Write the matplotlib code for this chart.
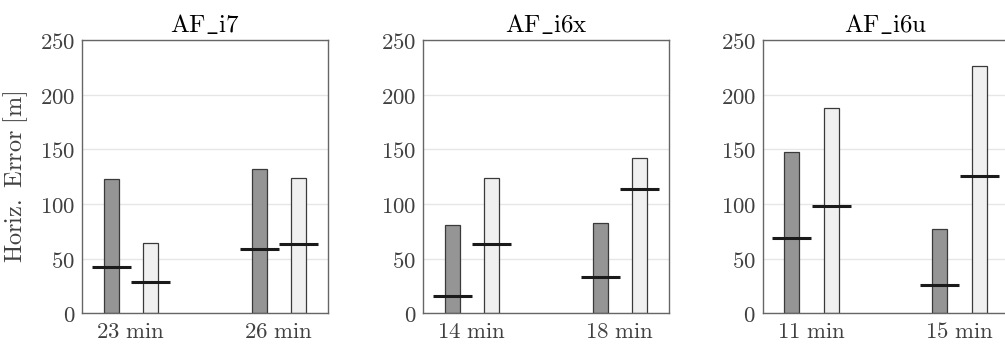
import numpy as np
import matplotlib.pyplot as plt

plt.rcParams['mathtext.fontset'] = 'cm'
plt.rcParams['font.size'] = 16.4

# data: bar = max, line = median, per phone / duration
titles = ['AF_i7', 'AF_i6x', 'AF_i6u']
durations = [['23 min', '26 min'], ['14 min', '18 min'], ['11 min', '15 min']]
dark_max = [[123, 132], [81, 83], [148, 77]]
dark_med = [[42, 59], [16, 33], [69, 26]]
light_max = [[64, 124], [124, 142], [188, 226]]
light_med = [[29, 63], [63, 114], [98, 126]]

dark_col = '#959595'
light_col = '#eff0ef'
edge_col = '#3a3a3a'

def tex(s):
    return r'$\mathrm{' + s.replace('_', r'\_').replace(' ', r'\ ') + '}$'

fig = plt.figure(figsize=(10.05, 3.48), dpi=100)
lefts = [82, 423, 762.7]
for i in range(3):
    ax = fig.add_axes([lefts[i] / 1005, 1 - 313.3 / 348, 245.7 / 1005, 273.3 / 348])
    x = np.arange(2)
    off = 0.133
    w = 0.1
    ax.bar(x - off, dark_max[i], w, color=dark_col, edgecolor=edge_col, linewidth=0.9, zorder=2)
    ax.bar(x + off, light_max[i], w, color=light_col, edgecolor=edge_col, linewidth=0.9, zorder=2)
    ax.hlines(dark_med[i], x - off - 0.132, x - off + 0.132, color='#1a1a1a', lw=2.2, zorder=3)
    ax.hlines(light_med[i], x + off - 0.132, x + off + 0.132, color='#1a1a1a', lw=2.2, zorder=3)

    ax.set_xlim(-0.33, 1.33)
    ax.set_ylim(0, 250)
    ax.set_xticks(x)
    ax.set_xticklabels([tex(d) for d in durations[i]])
    ax.set_yticks([0, 50, 100, 150, 200, 250])
    ax.set_yticklabels([tex(str(v)) for v in [0, 50, 100, 150, 200, 250]])
    ax.tick_params(length=0, pad=5, labelcolor='#404040')
    ax.grid(axis='y', color='#e6e6e6', lw=1, zorder=0)
    ax.set_axisbelow(True)
    for s in ax.spines.values():
        s.set_color('#666666')
        s.set_linewidth(1.0)
    ax.set_title(tex(titles[i]), fontsize=18, pad=6)
    if i == 0:
        ax.set_ylabel(tex('Horiz. Error [m]'), fontsize=17.5, color='#404040', labelpad=7)

fig.savefig('out.png', dpi=100)
